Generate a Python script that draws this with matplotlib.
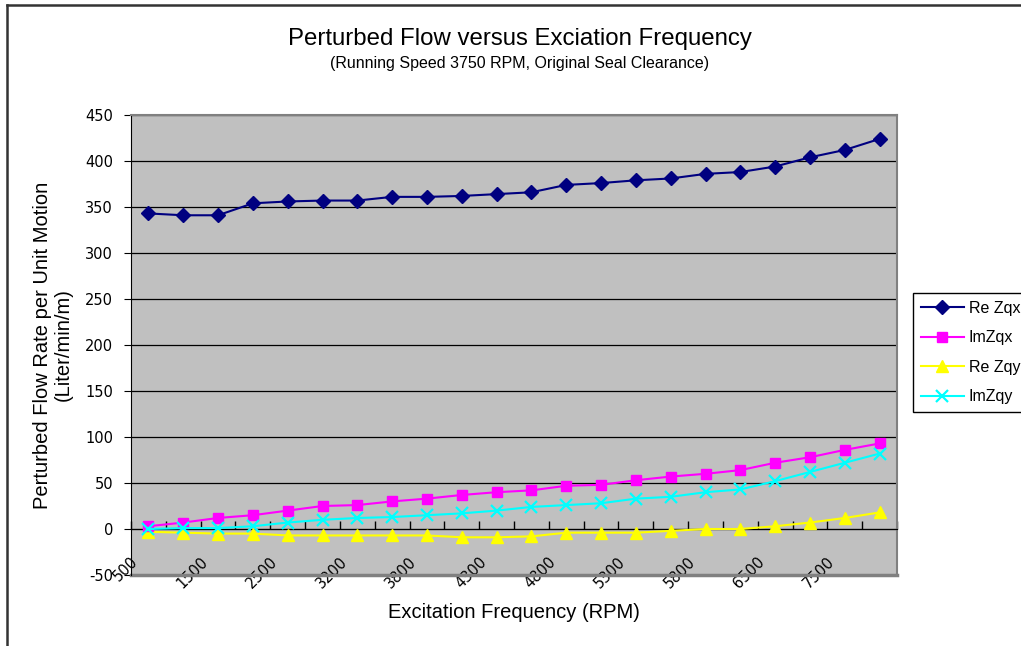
import numpy as np
import matplotlib
matplotlib.use('Agg')
import matplotlib.pyplot as plt
import matplotlib.transforms as mtransforms
from matplotlib.lines import Line2D

plt.rcParams['axes.unicode_minus'] = False

# 激励频率 (RPM) - only every other one is labelled in the original
freq = ['500', '1000', '1500', '2000', '2500', '3000', '3200', '3500', '3800', '4000', '4300',
        '4500', '4800', '5000', '5300', '5500', '5800', '6000', '6500', '7000', '7500', '8000']

re_zqx = [343, 341, 341, 354, 356, 357, 357, 361, 361, 362, 364,
          366, 374, 376, 379, 381, 386, 388, 394, 404, 412, 424]
im_zqx = [3, 7, 12, 15, 20, 25, 26, 30, 33, 37, 40,
          42, 47, 48, 53, 57, 60, 64, 72, 78, 86, 93]
re_zqy = [-3, -4, -5, -5, -7, -7, -7, -7, -7, -9, -9,
          -8, -4, -4, -4, -2, 0, 0, 3, 7, 12, 18]
im_zqy = [0, 1, 1, 3, 7, 10, 12, 13, 15, 17, 20,
          24, 26, 28, 33, 35, 40, 43, 52, 62, 72, 82]

fig = plt.figure(figsize=(10.21, 6.46), dpi=100)
fig.patch.set_facecolor('white')
ax = fig.add_axes([0.1283, 0.1099, 0.7503, 0.7121])
ax.set_facecolor('#C0C0C0')

x = np.arange(len(freq))
ax.plot(x, re_zqx, color='#000080', marker='D', markersize=7, lw=1.5, label='Re Zqx', zorder=5)
ax.plot(x, im_zqx, color='#FF00FF', marker='s', markersize=7.5, lw=1.5, label='ImZqx', zorder=4)
ax.plot(x, re_zqy, color='#FFFF00', marker='^', markersize=8.5, lw=1.5, label='Re Zqy', zorder=3)
ax.plot(x, im_zqy, color='#00FFFF', marker='x', markersize=8, mew=1.6, lw=1.5, label='ImZqy', zorder=6)

ax.set_xlim(-0.5, len(freq) - 0.5)
ax.set_ylim(-50, 450)
ax.set_yticks(np.arange(-50, 451, 50))
ax.yaxis.grid(True, color='black', lw=0.9)
ax.set_axisbelow(True)

# x axis crosses at 0, like excel
ax.spines['bottom'].set_position(('data', 0))
ax.spines['bottom'].set_color('black')
ax.spines['left'].set_color('black')
for s in ['top', 'right']:
    ax.spines[s].set_color('#808080')
    ax.spines[s].set_linewidth(1.5)
ax.axhline(-50, color='#808080', lw=2.5, zorder=1, clip_on=False)

ax.set_xticks(np.arange(-0.5, len(freq), 1.0))
ax.set_xticklabels([])
ax.tick_params(axis='x', which='major', direction='in', length=6, width=1)
ax.set_xticks(x[::2], minor=True)
ax.set_xticklabels(freq[::2], minor=True, rotation=45, ha='right', va='top',
                   rotation_mode='anchor', fontsize=10.5, family='DejaVu Sans')
ax.tick_params(axis='x', which='minor', length=0, pad=0)
off = mtransforms.ScaledTranslation(-0.18, -0.25, fig.dpi_scale_trans)
for lab in ax.get_xticklabels(minor=True):
    lab.set_transform(lab.get_transform() + off)

ax.tick_params(axis='y', direction='out', length=5, pad=8, labelsize=10.5)
for lab in ax.get_yticklabels():
    lab.set_family('DejaVu Sans')

fig.text(0.509, 0.939, 'Perturbed Flow versus Exciation Frequency', ha='center', va='center',
         fontsize=17.3, family='Liberation Sans')
fig.text(0.509, 0.902, '(Running Speed 3750 RPM, Original Seal Clearance)', ha='center', va='center',
         fontsize=11.5, family='Liberation Sans')
fig.text(0.503, 0.052, 'Excitation Frequency (RPM)', ha='center', va='center',
         fontsize=14.5, family='Liberation Sans')
fig.text(0.052, 0.466, 'Perturbed Flow Rate per Unit Motion\n(Liter/min/m)', ha='center', va='center',
         rotation=90, fontsize=14.5, family='Liberation Sans', linespacing=1.15)

leg = fig.legend(loc='upper left', bbox_to_anchor=(0.894, 0.5464), frameon=True, fancybox=False,
                 edgecolor='black', framealpha=1, prop={'family': 'Liberation Sans', 'size': 11.5},
                 handlelength=2.7, handletextpad=0.3, borderpad=0.5, labelspacing=0.9,
                 borderaxespad=0)
leg.get_frame().set_linewidth(1.0)

# chart area border (top/left visible)
fig.add_artist(Line2D([7 / 1021, 1.2], [1 - 5 / 646, 1 - 5 / 646], color='#333333', lw=1.8))
fig.add_artist(Line2D([7 / 1021, 7 / 1021], [1 - 5 / 646, -0.2], color='#333333', lw=1.8))

fig.savefig('out.png', dpi=100)
